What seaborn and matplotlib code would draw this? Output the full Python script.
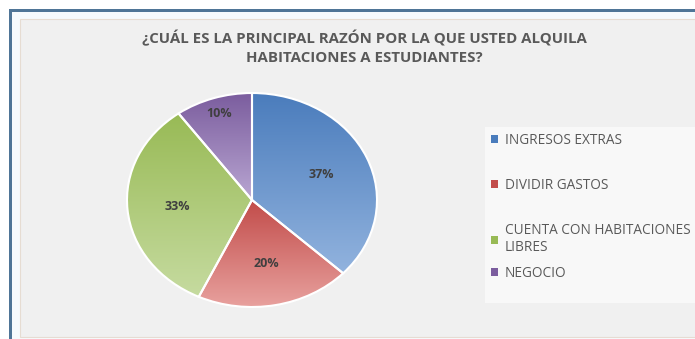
import numpy as np
import matplotlib
matplotlib.use("Agg")
import matplotlib.pyplot as plt
from matplotlib.patches import Rectangle
from matplotlib.colors import LinearSegmentedColormap
import seaborn as sns

# ---- data ----
title = "¿CUÁL ES LA PRINCIPAL RAZÓN POR LA QUE USTED ALQUILA\nHABITACIONES A ESTUDIANTES?"
categories = ["INGRESOS EXTRAS", "DIVIDIR GASTOS", "CUENTA CON HABITACIONES\nLIBRES", "NEGOCIO"]
values = [37, 20, 33, 10]
colors_top = ["#4a7cbc", "#c24c4a", "#98ba55", "#7b5d9e"]
colors_bottom = ["#92b3de", "#e8a19e", "#c6dba0", "#b9a6d2"]

sns.set_theme(style="white")
plt.rcParams['font.family'] = ['Open Sans', 'DejaVu Sans']

W, H = 695, 339
fig = plt.figure(figsize=(W / 100, H / 100), dpi=100)
fig.patch.set_facecolor("white")

def px_rect(x0, y0, x1, y1, **kw):
    fig.patches.append(Rectangle((x0 / W, 1 - y1 / H), (x1 - x0) / W, (y1 - y0) / H,
                                 transform=fig.transFigure, figure=fig, zorder=-5, **kw))

# frame
px_rect(12, 12, W, H, facecolor="#f6fafd", edgecolor="none")
px_rect(9, 9, W, 12, facecolor="#4f7597", edgecolor="none")
px_rect(9, 9, 12, H, facecolor="#4f7597", edgecolor="none")
px_rect(20, 19, W + 2, H - 2, facecolor="#f0f0f0", edgecolor="#e6dcd2", linewidth=0.8)
# legend background
px_rect(485, 127, W, 303, facecolor="#f8f8f8", edgecolor="none")

fig.text(364 / W, 1 - 47.5 / H, title, ha="center", va="center", fontsize=10.8,
         fontweight="bold", color="#595959", linespacing=1.45)

# pie axes
cx, cy, rx, ry = 252, 200, 125, 107
ax = fig.add_axes([(cx - rx) / W, 1 - (cy + ry) / H, 2 * rx / W, 2 * ry / H])
wedges, texts, autotexts = ax.pie(values, startangle=90, counterclock=False,
                                  autopct="%1.0f%%", pctdistance=0.6,
                                  wedgeprops=dict(edgecolor="white", linewidth=1.5),
                                  textprops=dict(fontsize=9.0, fontweight="bold", color="#3f3f3f"))
ax.set_aspect("auto")
ax.set_xlim(-1, 1)
ax.set_ylim(-1, 1)
ax.axis("off")

grad = np.linspace(0, 1, 256).reshape(-1, 1)
for w, ct, cb in zip(wedges, colors_top, colors_bottom):
    ext = w.get_path().get_extents(w.get_patch_transform())
    cmap = LinearSegmentedColormap.from_list("g", [ct, cb])
    im = ax.imshow(grad, cmap=cmap, aspect="auto", origin="upper",
                   extent=[ext.x0, ext.x1, ext.y0, ext.y1], zorder=0.5)
    im.set_clip_path(w)
    w.set_facecolor("none")
    w.set_zorder(1)
ax.set_aspect("auto")
ax.set_xlim(-1, 1)
ax.set_ylim(-1, 1)

# the small slice label sits further out
x, y = autotexts[3].get_position()
autotexts[3].set_position((x * 0.85 / 0.6, y * 0.85 / 0.6))

leg_kw = dict(loc="upper left", frameon=False, fontsize=9.8, handlelength=0.5,
              handleheight=0.5, handletextpad=0.5, labelcolor="#595959",
              borderaxespad=0, borderpad=0)
leg1 = fig.legend(wedges[:3], categories[:3], bbox_to_anchor=(491 / W, 1 - 133 / H),
                  labelspacing=2.2, **leg_kw)
leg2 = fig.legend(wedges[3:], categories[3:], bbox_to_anchor=(491 / W, 1 - 266 / H), **leg_kw)
for leg, cols in ((leg1, colors_top[:3]), (leg2, colors_top[3:])):
    for h, c in zip(leg.legend_handles, cols):
        h.set_facecolor(c)
        h.set_edgecolor("none")

fig.savefig("out.png", dpi=100, facecolor=fig.get_facecolor())
